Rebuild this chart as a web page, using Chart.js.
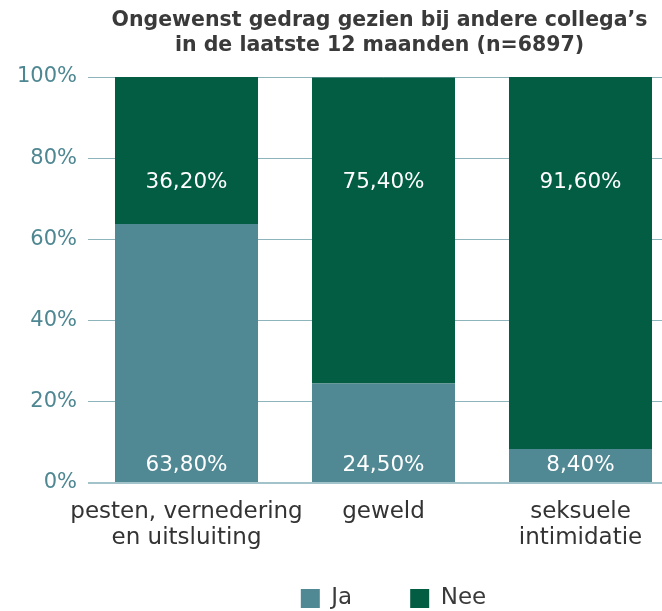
<!DOCTYPE html>
<html><head><meta charset="utf-8">
<script src="https://cdn.jsdelivr.net/npm/chart.js@4/dist/chart.umd.min.js"></script>
<style>
html,body{margin:0;padding:0;background:#fff;overflow:hidden;}
#wrap{position:relative;width:680px;height:611px;}
</style></head>
<body><div id="wrap"><canvas id="c"></canvas></div>
<script>
const categories = [["pesten, vernedering","en uitsluiting"], "geweld", ["seksuele","intimidatie"]];
const jaValues = [63.8, 24.5, 8.4];
const neeValues = [36.2, 75.4, 91.6];
const seriesNames = ["Ja", "Nee"];
const yTicks = [0, 20, 40, 60, 80, 100];
const titleLines = ["Ongewenst gedrag gezien bij andere collega\u2019s", "in de laatste 12 maanden (n=6897)"];

const FONT = "'DejaVu Sans', sans-serif";
const fmt = v => v.toFixed(2).replace('.', ',') + '%';

const labelPlugin = {
  id: 'barLabels',
  afterLayout(chart) {
    const lg = chart.legend;
    if (lg) { lg.top += 9; lg.bottom += 9; lg.left += 10; lg.right += 10; }
    const xs = chart.scales.x;
    if (xs) { xs.bottom += 40; }
    const tb = chart.titleBlock;
    if (tb) { tb.left -= 4; tb.right -= 4; }
  },
  afterDatasetsDraw(chart) {
    const ctx = chart.ctx;
    ctx.save();
    ctx.fillStyle = '#ffffff';
    ctx.font = '21.5px ' + FONT;
    ctx.textAlign = 'center';
    ctx.textBaseline = 'middle';
    chart.data.datasets.forEach((ds, di) => {
      const meta = chart.getDatasetMeta(di);
      meta.data.forEach((bar, i) => {
        const v = ds.data[i];
        let y;
        if (di === 0) y = bar.base - 17; else y = bar.y + 105;
        ctx.fillText(fmt(v), bar.x, y);
      });
    });
    ctx.restore();
  }
};

new Chart(document.getElementById('c'), {
  type: 'bar',
  data: {
    labels: categories,
    datasets: [
      { label: seriesNames[0], data: jaValues, backgroundColor: '#508893', categoryPercentage: 0.726, barPercentage: 1 },
      { label: seriesNames[1], data: neeValues, backgroundColor: '#025d43', categoryPercentage: 0.726, barPercentage: 1 }
    ]
  },
  options: {
    responsive: true,
    maintainAspectRatio: false,
    animation: false,
    layout: { padding: { top: 8, right: 1, left: 14, bottom: 0 } },
    plugins: {
      title: {
        display: true, text: titleLines, fullSize: false,
        color: '#3a3a3a', font: { family: FONT, size: 20.5, weight: 'bold', lineHeight: 1.22 },
        padding: { top: 0, bottom: 19 }
      },
      legend: {
        position: 'bottom', fullSize: false,
        labels: { color: '#3a3a3a', font: { family: FONT, size: 23 }, boxWidth: 19, boxHeight: 19, padding: 58 }
      },
      tooltip: { enabled: false }
    },
    scales: {
      x: {
        stacked: true,
        afterFit: s => { s.height = 37; },
        grid: { display: false, drawTicks: false },
        border: { display: false },
        ticks: { color: '#333333', font: { family: FONT, size: 23, lineHeight: 1.13 }, padding: 16, maxRotation: 0, autoSkip: false }
      },
      y: {
        stacked: true, min: 0, max: 100,
        afterFit: s => { s.width = 74; },
        afterBuildTicks: ax => { ax.ticks = yTicks.map(v => ({ value: v })); },
        grid: {
          color: c => (c.tick && c.tick.value === 0) ? '#a2c3c9' : '#8db3bb',
          lineWidth: c => (c.tick && c.tick.value === 0) ? 2 : 1,
          drawTicks: false
        },
        border: { display: false },
        ticks: { color: '#4e8792', font: { family: FONT, size: 21 }, padding: 11, callback: v => v + '%' }
      }
    }
  },
  plugins: [labelPlugin]
});
</script></body></html>
